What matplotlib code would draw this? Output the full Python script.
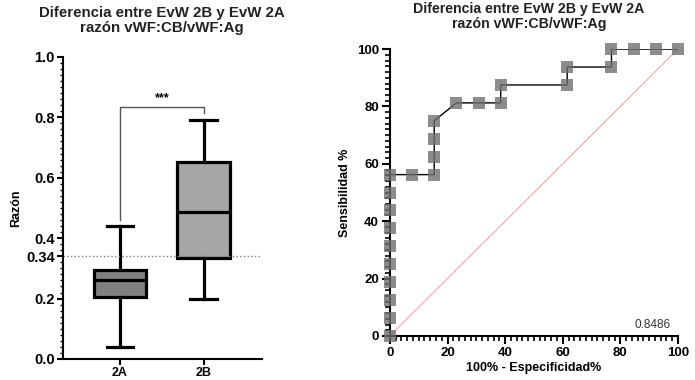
import numpy as np
import matplotlib
matplotlib.use("Agg")
import matplotlib.pyplot as plt
from matplotlib.ticker import MultipleLocator

plt.rcParams['font.family'] = ['Liberation Sans', 'DejaVu Sans']

# box plot data
groups = ['2A', '2B']
whislo = [0.04, 0.20]
q1 = [0.204, 0.335]
med = [0.26, 0.488]
q3 = [0.295, 0.653]
whishi = [0.44, 0.79]
box_colors = ['#808080', '#a6a6a8']
cutoff = 0.34

# ROC curve data
fpr = [0, 0, 0, 0, 0, 0, 0, 0, 0, 0, 7.69, 15.38, 15.38, 15.38, 15.38,
       23.08, 30.77, 38.46, 38.46, 61.54, 61.54, 76.92, 76.92, 84.62, 92.31, 100]
tpr = [0, 6.25, 12.5, 18.75, 25, 31.25, 37.5, 43.75, 50, 56.25, 56.25, 56.25, 62.5, 68.75, 75,
       81.25, 81.25, 81.25, 87.5, 87.5, 93.75, 93.75, 100, 100, 100, 100]
auc = '0.8486'

fig = plt.figure(figsize=(6.95, 3.8), dpi=100)

"""Box plot"""
ax1 = fig.add_axes([0.0906, 0.0553, 0.286, 0.795])
stats = []
for i in range(len(groups)):
    stats.append({'whislo': whislo[i], 'q1': q1[i], 'med': med[i], 'q3': q3[i],
                  'whishi': whishi[i], 'fliers': []})
bp = ax1.bxp(stats, positions=[0, 1], widths=0.63, patch_artist=True, showfliers=False,
             boxprops=dict(linewidth=2.3, edgecolor='black'),
             medianprops=dict(color='black', linewidth=2.3),
             whiskerprops=dict(color='black', linewidth=2.3),
             capprops=dict(color='black', linewidth=2.3), capwidths=0.32)
for patch, c in zip(bp['boxes'], box_colors):
    patch.set_facecolor(c)

ax1.axhline(cutoff, xmin=0, xmax=0.99, color='gray', linestyle=':', linewidth=1)
ax1.set_xlim(-0.68, 1.69)
ax1.set_ylim(0, 1.0)
ax1.set_xticks([0, 1])
ax1.set_xticklabels(groups, fontweight='bold', fontsize=9)
ax1.set_yticks([0.0, 0.2, 0.34, 0.4, 0.6, 0.8, 1.0])
ax1.set_yticklabels(['0.0', '0.2', '0.34', '0.4', '0.6', '0.8', '1.0'], fontweight='bold', fontsize=10.5)
ax1.yaxis.set_minor_locator(MultipleLocator(0.02))
ax1.tick_params(axis='y', which='minor', length=2, width=1)
ax1.tick_params(axis='both', which='major', length=4, width=1.5, pad=2)
ax1.spines['top'].set_visible(False)
ax1.spines['right'].set_visible(False)
ax1.spines['left'].set_linewidth(1.5)
ax1.spines['bottom'].set_linewidth(1.5)
ax1.set_ylabel('Razón', fontsize=9, fontweight='bold')
ax1.yaxis.set_label_coords(-0.205, 0.5)

# significance bracket
ax1.plot([0, 0, 1, 1], [0.46, 0.835, 0.835, 0.815], color='#555555', linewidth=1)
ax1.text(0.5, 0.845, '***', ha='center', va='bottom', fontsize=9, fontweight='bold')

fig.text(0.233, 0.985, 'Diferencia entre EvW 2B y EvW 2A\nrazón vWF:CB/vWF:Ag',
         ha='center', va='top', fontsize=10.8, fontweight='bold', color='#222222', linespacing=1.1)

"""ROC curve"""
ax2 = fig.add_axes([0.561, 0.1158, 0.4145, 0.755])
ax2.plot([0, 100], [0, 100], color='#f4a6a6', linewidth=0.8, zorder=1)
ax2.plot(fpr, tpr, color='black', linewidth=1, zorder=2)
ax2.plot(fpr, tpr, linestyle='none', marker='s', markersize=8.5,
         color='#707070', alpha=0.8, markeredgewidth=0, zorder=3, clip_on=False)
ax2.set_xlim(0, 100)
ax2.set_ylim(0, 100)
ax2.xaxis.set_major_locator(MultipleLocator(20))
ax2.yaxis.set_major_locator(MultipleLocator(20))
ax2.xaxis.set_minor_locator(MultipleLocator(2))
ax2.yaxis.set_minor_locator(MultipleLocator(2))
ax2.tick_params(axis='both', which='major', length=6, width=1.5, labelsize=9.5, pad=2)
ax2.tick_params(axis='both', which='minor', length=3.5, width=1.2)
for lab in ax2.get_xticklabels() + ax2.get_yticklabels():
    lab.set_fontweight('bold')
ax2.spines['top'].set_visible(False)
ax2.spines['right'].set_visible(False)
ax2.spines['left'].set_linewidth(1.5)
ax2.spines['bottom'].set_linewidth(1.5)
ax2.set_xlabel('100% - Especificidad%', fontsize=9, fontweight='bold', labelpad=2)
ax2.set_ylabel('Sensibilidad %', fontsize=9, fontweight='bold', labelpad=4)
ax2.text(97.5, 4, auc, ha='right', va='center', fontsize=8.5, color='#333333')

fig.text(0.761, 0.995, 'Diferencia entre EvW 2B y EvW 2A\nrazón vWF:CB/vWF:Ag',
         ha='center', va='top', fontsize=10.2, fontweight='bold', color='#222222', linespacing=1.1)

fig.savefig('out.png', dpi=100)
